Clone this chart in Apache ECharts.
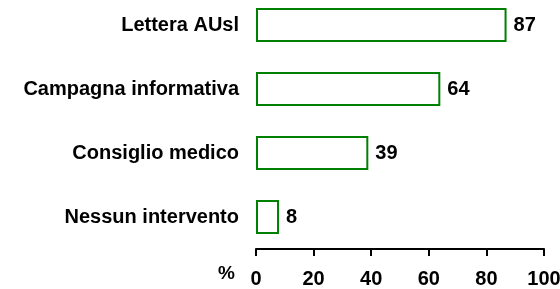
<!DOCTYPE html>
<html>
<head>
<meta charset="utf-8">
<script src="https://cdn.jsdelivr.net/npm/echarts@6/dist/echarts.min.js"></script>
<style>
    html, body { margin: 0; padding: 0; background: #fff; }
    #chart { width: 560px; height: 289px; }
</style>
</head>
<body>
<div id="chart"></div>
<script>
    // dati
    var categories = ['Lettera AUsl', 'Campagna informativa', 'Consiglio medico', 'Nessun intervento'];
    var values = [87, 64, 39, 8];
    var xTicks = [0, 20, 40, 60, 80, 100];

    var font = '"Liberation Sans", Arial, Helvetica, sans-serif';

    var chart = echarts.init(document.getElementById('chart'));
    chart.setOption({
        animation: false,
        backgroundColor: '#fff',
        grid: {
            left: 256,
            right: 16,
            top: -7,
            bottom: 40,
            containLabel: false,
            outerBoundsMode: 'none'
        },
        xAxis: {
            type: 'value',
            min: xTicks[0],
            max: xTicks[xTicks.length - 1],
            interval: 20,
            name: '%',
            nameLocation: 'start',
            nameGap: 21,
            nameTextStyle: {
                color: '#000',
                fontFamily: font,
                fontWeight: 'bold',
                fontSize: 19,
                verticalAlign: 'top',
                padding: [15, 0, 0, 0]
            },
            axisLine: { show: true, lineStyle: { color: '#000', width: 2 } },
            axisTick: { show: true, length: 7, lineStyle: { color: '#000', width: 2 } },
            splitLine: { show: false },
            axisLabel: {
                color: '#000',
                fontFamily: font,
                fontWeight: 'bold',
                fontSize: 20,
                margin: 20
            }
        },
        yAxis: {
            type: 'category',
            data: categories,
            inverse: true,
            axisLine: { show: false },
            axisTick: { show: false },
            axisLabel: {
                color: '#000',
                fontFamily: font,
                fontWeight: 'bold',
                fontSize: 20,
                margin: 17
            }
        },
        series: [{
            type: 'bar',
            data: values,
            barWidth: 34,
            itemStyle: {
                color: '#fff',
                borderColor: '#008000',
                borderWidth: 2
            },
            label: {
                show: true,
                position: 'right',
                distance: 7,
                color: '#000',
                fontFamily: font,
                fontWeight: 'bold',
                fontSize: 20
            }
        }]
    });
</script>
</body>
</html>
